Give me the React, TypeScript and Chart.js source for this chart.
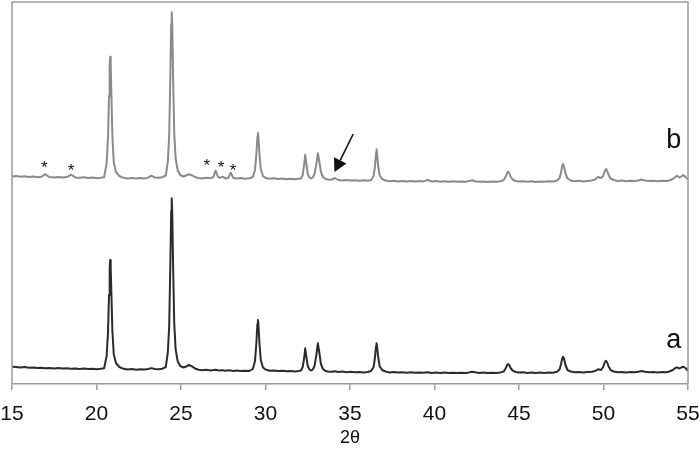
import React, { useEffect, useRef } from "react";
import { Chart, registerables } from "chart.js";

Chart.register(...registerables);

// 2θ positions shared by both patterns
const twoTheta: number[] = [
  15.0, 15.25, 15.5, 15.75, 16.0, 16.25, 16.5, 16.75, 16.95, 17.2, 17.5, 17.75, 18.0, 18.25, 18.5, 18.75,
  19.0, 19.25, 19.5, 19.75, 20.0, 20.25, 20.45,
  20.6, 20.68, 20.74, 20.78, 20.81, 20.84, 20.88, 20.94, 21.02, 21.15, 21.35,
  21.6, 21.85, 22.1, 22.35, 22.6, 22.85, 23.05, 23.25, 23.45, 23.7, 23.9, 24.1,
  24.22, 24.3, 24.37, 24.42, 24.45, 24.48, 24.53, 24.6, 24.68, 24.8, 24.95,
  25.15, 25.3, 25.48, 25.65, 25.85, 26.05, 26.25, 26.5, 26.75, 26.92, 27.05, 27.18, 27.3, 27.45, 27.6,
  27.8, 27.94, 28.1, 28.3, 28.55, 28.8, 29.05, 29.25,
  29.38, 29.46, 29.52, 29.55, 29.58, 29.64, 29.72, 29.85, 30.0,
  30.25, 30.5, 30.75, 31.0, 31.25, 31.5, 31.75, 31.95, 32.1,
  32.2, 32.28, 32.35, 32.42, 32.5, 32.6, 32.7, 32.8, 32.9, 33.0, 33.1, 33.18, 33.28, 33.4, 33.55, 33.7,
  33.9, 34.1, 34.3, 34.55, 34.8, 35.05, 35.3, 35.55, 35.8, 36.05, 36.25,
  36.4, 36.48, 36.54, 36.57, 36.6, 36.66, 36.75, 36.9, 37.1,
  37.35, 37.6, 37.85, 38.1, 38.35, 38.6, 38.85, 39.1, 39.35, 39.6, 39.85, 40.1, 40.35, 40.6, 40.85,
  41.1, 41.35, 41.6, 41.85, 42.05, 42.22, 42.4, 42.65, 42.9, 43.15, 43.4, 43.65, 43.9, 44.1,
  44.22, 44.3, 44.36, 44.42, 44.5, 44.62, 44.8,
  45.0, 45.25, 45.5, 45.75, 46.0, 46.25, 46.5, 46.75, 47.0, 47.25, 47.4,
  47.48, 47.55, 47.61, 47.67, 47.75, 47.87, 48.05,
  48.3, 48.55, 48.8, 49.05, 49.3, 49.5, 49.68, 49.85,
  49.98, 50.07, 50.15, 50.22, 50.3, 50.42, 50.6,
  50.85, 51.1, 51.35, 51.6, 51.85, 52.05, 52.26, 52.45, 52.7, 52.95, 53.2, 53.45, 53.7,
  53.9, 54.1, 54.25, 54.35, 54.5, 54.6, 54.72, 54.85, 55.0,
];

// pattern b (upper, grey trace) – intensity, a.u.
const intensityB: number[] = [
  207.5, 208.0, 207.2, 207.8, 207.0, 207.4, 206.8, 207.3, 209.8, 207.0, 206.6, 207.1, 206.5, 206.9, 209.3, 206.6,
  206.2, 206.7, 206.0, 206.4, 205.9, 206.3, 206.8,
  220.6, 246, 288, 318.5, 327.3, 318, 290, 248, 222, 212, 208,
  206.2, 205.6, 206.0, 205.4, 205.9, 205.6, 206.4, 208.3, 206.6, 206.2, 206.8, 208.5,
  222.5, 247.5, 309, 360, 371.7, 360, 309, 251, 226, 214, 209,
  207.5, 208.5, 209.7, 208.6, 206.8, 206.0, 205.6, 206.2, 205.8, 207.0, 213.3, 207.5, 206.0, 207.5, 205.8,
  206.1, 211.3, 206.0, 205.4, 205.9, 205.3, 205.8, 207,
  214, 230, 247, 251, 247.5, 231, 215, 208, 206,
  205.2, 205.7, 205.0, 205.4, 204.8, 205.3, 204.7, 205.2, 205.5,
  209, 218, 229.3, 220, 210, 206.5, 205.5, 206.5, 210, 219, 230.7, 223, 212, 207, 205, 204.5,
  204.2, 206.0, 204.0, 203.6, 204.0, 203.4, 203.8, 203.2, 203.7, 203.3, 204,
  208, 218, 231, 234.7, 231, 219, 209, 205, 203.5,
  202.8, 203.3, 202.6, 203.1, 202.5, 203.0, 202.4, 202.9, 202.6, 204.0, 202.4, 202.9, 202.3, 202.8, 202.2,
  202.7, 202.2, 202.6, 202.3, 202.9, 203.8, 202.8, 202.2, 202.6, 202.1, 202.6, 202.3, 202.8, 204,
  207.5, 211, 212.3, 211, 207.5, 204.5, 203,
  202.4, 202.8, 202.2, 202.7, 202.1, 202.6, 202.3, 202.8, 202.4, 203.5, 206,
  211, 217.5, 220, 217, 210.5, 205.5, 203.5,
  202.8, 203.2, 202.6, 203.1, 203.5, 204.5, 207, 206,
  208, 212.5, 215, 213, 209, 205.5, 204,
  203.0, 203.4, 202.8, 203.3, 202.9, 203.5, 204.5, 203.4, 202.9, 203.3, 202.8, 203.2, 202.9,
  203.5, 205, 207, 208.3, 206.5, 207.5, 209, 207, 204.7,
];

// pattern a (lower, dark trace) – intensity, a.u.
const intensityA: number[] = [
  17.3, 17.0, 16.6, 16.9, 16.2, 16.5, 15.9, 16.3, 15.8, 16.1, 15.6, 15.9, 15.4, 15.7, 15.3, 15.6,
  15.1, 15.4, 14.9, 15.3, 14.8, 15.2, 15.8,
  28, 51, 89, 116, 124, 116, 91, 53, 30, 21, 17,
  15.2, 14.6, 14.9, 14.3, 14.7, 14.5, 15.0, 15.9, 15.0, 14.8, 15.3, 17.0,
  31.5, 57, 120.5, 173.5, 185.7, 173.5, 121, 61, 35, 23, 18,
  16.5, 17.5, 19.0, 17.6, 15.3, 14.2, 13.8, 14.2, 13.6, 13.9, 14.3, 13.7, 13.4, 13.9, 13.3,
  13.7, 13.4, 13.1, 13.5, 12.9, 13.3, 13.0, 15,
  23, 41, 60, 64, 60, 41.5, 24, 16.5, 14.5,
  13.2, 13.6, 12.9, 13.3, 12.7, 13.1, 12.6, 13.0, 13.5,
  17, 25, 35.7, 27, 18, 14.5, 13.5, 14.5, 18, 28, 40.7, 32, 20, 15, 13, 12.5,
  12.3, 12.8, 12.0, 12.4, 11.8, 12.2, 11.7, 12.1, 11.6, 12.0, 13,
  17, 27, 38, 40.7, 38, 28, 18, 14, 12.5,
  11.6, 12.0, 11.4, 11.8, 11.3, 11.7, 11.2, 11.6, 11.3, 11.8, 11.1, 11.5, 11.0, 11.4, 11.0,
  11.3, 10.9, 11.3, 11.1, 11.6, 12.3, 11.7, 11.0, 11.4, 10.9, 11.3, 11.1, 11.6, 12.5,
  16, 19, 20, 19, 16, 13.5, 12,
  11.4, 11.7, 11.1, 11.5, 11.0, 11.4, 11.1, 11.5, 11.2, 12.2, 14.5,
  19.5, 25, 27.3, 25, 19, 14, 12.5,
  11.7, 12.0, 11.5, 11.9, 12.3, 13, 14.7, 14,
  17, 21.5, 23.3, 21.5, 17.5, 14, 12.5,
  11.8, 12.1, 11.6, 12.0, 11.7, 12.2, 13.0, 12.2, 11.7, 12.1, 11.6, 12.0, 11.8,
  12.5, 14, 16, 16.7, 15.5, 16.5, 17.3, 16, 13.3,
];

const xTicks: number[] = [15, 20, 25, 30, 35, 40, 45, 50, 55];
const xTitle = "2θ";

// annotations (data coordinates)
const asteriskX: number[] = [16.91, 18.49, 26.52, 27.37, 28.08];
const asteriskY: number[] = [221, 218, 223, 221, 218];
const arrowFrom: [number, number] = [35.19, 250];
const arrowTo: [number, number] = [34.08, 212];
const seriesLabels: string[] = ["a", "b"];
const seriesLabelX: number[] = [54.15, 54.15];
const seriesLabelY: number[] = [36, 236];

const FONT = "'Liberation Sans', Arial, Helvetica, sans-serif";

const framePlugin = {
  id: "frameAndNotes",
  afterDatasetsDraw(chart: any) {
    const { ctx, chartArea, scales } = chart;
    const xs = scales.x;
    const ys = scales.y;
    ctx.save();
    // frame
    ctx.strokeStyle = "#9c9c9c";
    ctx.lineWidth = 1.5;
    ctx.beginPath();
    ctx.moveTo(chartArea.left, chartArea.bottom);
    ctx.lineTo(chartArea.left, chartArea.top);
    ctx.lineTo(chartArea.right, chartArea.top);
    ctx.lineTo(chartArea.right, chartArea.bottom);
    ctx.stroke();

    // asterisks
    ctx.fillStyle = "#111";
    ctx.font = `17px ${FONT}`;
    ctx.textAlign = "center";
    ctx.textBaseline = "alphabetic";
    asteriskX.forEach((x, i) => {
      ctx.fillText("*", xs.getPixelForValue(x), ys.getPixelForValue(asteriskY[i]) + 10);
    });

    // arrow
    const x1 = xs.getPixelForValue(arrowFrom[0]);
    const y1 = ys.getPixelForValue(arrowFrom[1]);
    const x2 = xs.getPixelForValue(arrowTo[0]);
    const y2 = ys.getPixelForValue(arrowTo[1]);
    const ang = Math.atan2(y2 - y1, x2 - x1);
    const headLen = 13;
    const headW = 7;
    const bx = x2 - headLen * Math.cos(ang);
    const by = y2 - headLen * Math.sin(ang);
    ctx.strokeStyle = "#111";
    ctx.lineWidth = 1.6;
    ctx.beginPath();
    ctx.moveTo(x1, y1);
    ctx.lineTo(bx, by);
    ctx.stroke();
    ctx.beginPath();
    ctx.moveTo(x2, y2);
    ctx.lineTo(bx + headW * Math.sin(ang), by - headW * Math.cos(ang));
    ctx.lineTo(bx - headW * Math.sin(ang), by + headW * Math.cos(ang));
    ctx.closePath();
    ctx.fill();

    // series labels
    ctx.font = `27px ${FONT}`;
    ctx.fillStyle = "#111";
    seriesLabels.forEach((t, i) => {
      ctx.fillText(t, xs.getPixelForValue(seriesLabelX[i]), ys.getPixelForValue(seriesLabelY[i]));
    });
    ctx.restore();
  },
};

export default function App() {
  const ref = useRef<HTMLCanvasElement | null>(null);

  useEffect(() => {
    if (!ref.current) return;
    const chart = new Chart(ref.current, {
      type: "line",
      data: {
        datasets: [
          {
            label: "b",
            data: twoTheta.map((x, i) => ({ x, y: intensityB[i] })),
            borderColor: "#8a8a8a",
            borderWidth: 2,
            borderJoinStyle: "round",
            borderCapStyle: "round",
            pointRadius: 0,
            tension: 0,
          },
          {
            label: "a",
            data: twoTheta.map((x, i) => ({ x, y: intensityA[i] })),
            borderColor: "#2b2b2b",
            borderWidth: 2,
            borderJoinStyle: "round",
            borderCapStyle: "round",
            pointRadius: 0,
            tension: 0,
          },
        ],
      },
      options: {
        animation: false,
        responsive: true,
        maintainAspectRatio: false,
        layout: { padding: { left: 12, right: 12, top: 2, bottom: 0 } },
        plugins: { legend: { display: false }, tooltip: { enabled: false } },
        scales: {
          x: {
            type: "linear",
            min: 15,
            max: 55,
            afterBuildTicks: (s: any) => {
              s.ticks = xTicks.map((v) => ({ value: v }));
            },
            afterFit: (s: any) => {
              s.height = 68;
              s.paddingLeft = 0;
              s.paddingRight = 0;
            },
            ticks: {
              color: "#111",
              font: { family: FONT, size: 21 },
              padding: 12,
              maxRotation: 0,
              autoSkip: false,
            },
            grid: {
              display: true,
              drawOnChartArea: false,
              drawTicks: true,
              tickLength: 6,
              color: "#9c9c9c",
              lineWidth: 1.5,
            },
            border: { display: true, color: "#9c9c9c", width: 1.5 },
            title: {
              display: true,
              text: xTitle,
              color: "#111",
              font: { family: FONT, size: 18 },
              padding: { top: 2, bottom: 3 },
            },
          },
          y: {
            display: false,
            min: 0,
            max: 382,
          },
        },
      },
      plugins: [framePlugin],
    });
    return () => chart.destroy();
  }, []);

  return (
    <div style={{ position: "fixed", left: 0, top: 0, width: 700, height: 452, background: "#fff" }}>
      <canvas ref={ref} />
    </div>
  );
}
